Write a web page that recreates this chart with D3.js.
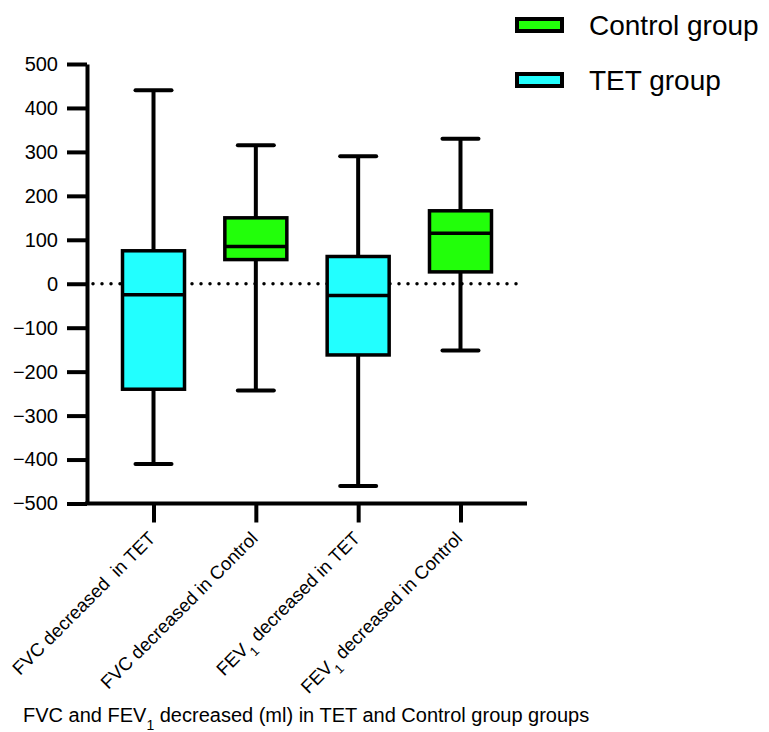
<!DOCTYPE html>
<html>
<head>
<meta charset="utf-8">
<script src="https://cdn.jsdelivr.net/npm/d3@7"></script>
<style>
body{margin:0;background:#fff}
svg{display:block;font-family:"Liberation Sans",Arial,sans-serif}
</style>
</head>
<body>
<svg id="chart" width="769" height="732"></svg>
<script>
'use strict';

// values (ml)
var categories=['FVC decreased  in TET','FVC decreased in Control','FEV1 decreased in TET','FEV1 decreased in Control']
  , groups=['TET','Control','TET','Control']
  , whiskerHigh=[440,315,290,330]
  , boxHigh=[75,150,62,166]
  , medians=[-25,85,-27,115]
  , boxLow=[-240,55,-162,27]
  , whiskerLow=[-410,-243,-460,-152]
  , yTicks=[500,400,300,200,100,0,-100,-200,-300,-400,-500]
  , legendGroups=['Control','TET']
  , legendLabels=['Control group','TET group']
  , title='FVC and FEV1 decreased (ml) in TET and Control group groups'
  , colors={TET:'#22ffff',Control:'#22ff0a'}

var svg=d3.select('#chart')
  , pL=87, pR=527, pT=64, pB=503.5
  , boxW=62, capW=36

var x=d3.scalePoint().domain(categories).range([pL,pR]).padding(0.65)
  , y=d3.scaleLinear().domain([-500,500]).range([pB,pT])

// writes "FEV1" with a subscript 1
function sub(t,s){
    var p=s.split('FEV1');
    t.text(null);
    p.forEach(function(e,i){
        if(i>0){
            t.append('tspan').text('FEV');
            t.append('tspan').attr('baseline-shift','sub').attr('font-size','70%').text('1');
        }
        if(e) t.append('tspan').text(e);
    });
}

// zero line
svg.append('line')
    .attr('x1',pL+6).attr('x2',pR-4)
    .attr('y1',y(0)).attr('y2',y(0))
    .attr('stroke','#000').attr('stroke-width',3.5)
    .attr('stroke-linecap','round').attr('stroke-dasharray','0,9');

var g=svg.append('g').selectAll('g').data(categories).enter().append('g')
    .attr('transform',function(d){return 'translate('+x(d)+',0)';});

g.append('line')
    .attr('y1',function(d,i){return y(whiskerHigh[i]);})
    .attr('y2',function(d,i){return y(whiskerLow[i]);})
    .attr('stroke','#000').attr('stroke-width',4);
g.append('line')
    .attr('x1',-capW/2).attr('x2',capW/2)
    .attr('y1',function(d,i){return y(whiskerHigh[i]);})
    .attr('y2',function(d,i){return y(whiskerHigh[i]);})
    .attr('stroke','#000').attr('stroke-width',4).attr('stroke-linecap','round');
g.append('line')
    .attr('x1',-capW/2).attr('x2',capW/2)
    .attr('y1',function(d,i){return y(whiskerLow[i]);})
    .attr('y2',function(d,i){return y(whiskerLow[i]);})
    .attr('stroke','#000').attr('stroke-width',4).attr('stroke-linecap','round');
g.append('rect')
    .attr('x',-boxW/2).attr('width',boxW)
    .attr('y',function(d,i){return y(boxHigh[i]);})
    .attr('height',function(d,i){return y(boxLow[i])-y(boxHigh[i]);})
    .attr('fill',function(d,i){return colors[groups[i]];})
    .attr('stroke','#000').attr('stroke-width',3.5);
g.append('line')
    .attr('x1',-boxW/2).attr('x2',boxW/2)
    .attr('y1',function(d,i){return y(medians[i]);})
    .attr('y2',function(d,i){return y(medians[i]);})
    .attr('stroke','#000').attr('stroke-width',3.5);

// axes
var ya=svg.append('g')
    .attr('transform','translate('+pL+',0)')
    .call(d3.axisLeft(y).tickValues(yTicks).tickSize(20).tickSizeOuter(0).tickPadding(9));
ya.select('.domain').attr('stroke-width',4);
ya.selectAll('.tick line').attr('stroke-width',4);
ya.selectAll('.tick text').attr('font-size',20).attr('font-family','"Liberation Sans",Arial,sans-serif').attr('fill','#000');

var xa=svg.append('g')
    .attr('transform','translate(0,'+pB+')')
    .call(d3.axisBottom(x).tickSize(19).tickSizeOuter(0).tickFormat(''));
xa.select('.domain').attr('d','M'+(pL-2)+',0H'+pR).attr('stroke-width',4);
xa.selectAll('.tick line').attr('stroke-width',4);

svg.append('g').selectAll('text').data(categories).enter().append('text')
    .attr('transform',function(d){return 'translate('+(x(d)+3)+','+(pB+36)+') rotate(-45)';})
    .attr('text-anchor','end')
    .attr('font-size',18.5)
    .style('white-space','pre')
    .each(function(d){sub(d3.select(this),d);});

// legend
var lg=svg.append('g').selectAll('g').data(legendGroups).enter().append('g')
    .attr('transform',function(d,i){return 'translate(0,'+(i*55)+')';});
lg.append('rect')
    .attr('x',517).attr('y',19).attr('width',45).attr('height',12)
    .attr('fill',function(d){return colors[d];})
    .attr('stroke','#000').attr('stroke-width',4);
lg.append('text')
    .attr('x',589).attr('y',35)
    .attr('font-size',28)
    .text(function(d,i){return legendLabels[i];});

svg.append('text')
    .attr('x',23).attr('y',722)
    .attr('font-size',20)
    .each(function(){sub(d3.select(this),title);});
</script>
</body>
</html>
